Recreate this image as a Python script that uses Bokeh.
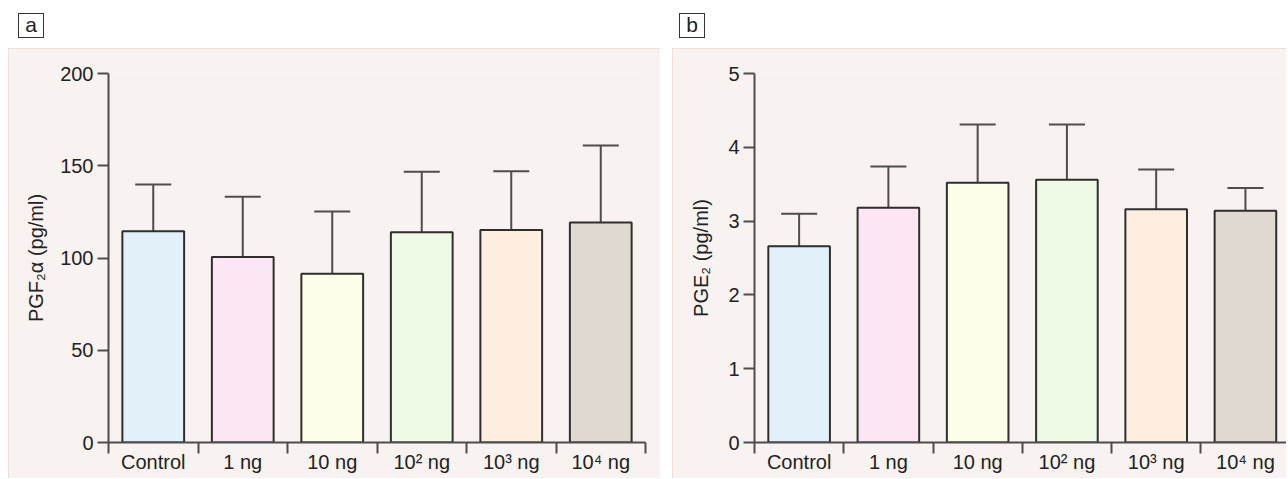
from bokeh.plotting import figure
from bokeh.layouts import row, column
from bokeh.models import Div, Range1d, FixedTicker, ColumnDataSource, TeeHead, Whisker
from bokeh.embed import file_html
from bokeh.resources import INLINE

# ---- data ----
categories = ["Control", "1 ng", "10 ng", "10² ng", "10³ ng", "10⁴ ng"]
pgf_mean = [114.5, 100.5, 91.5, 114.0, 115.2, 119.2]
pgf_err_top = [139.8, 133.2, 125.2, 146.8, 147.0, 161.0]
pge_mean = [2.66, 3.18, 3.52, 3.56, 3.16, 3.14]
pge_err_top = [3.10, 3.74, 4.31, 4.31, 3.70, 3.45]
bar_colors = ["#e2f0fa", "#fde6f3", "#fefde9", "#eefae6", "#feeee0", "#e0d9cf"]
pgf_ticks = [0, 50, 100, 150, 200]
pge_ticks = [0, 1, 2, 3, 4, 5]

FONT = "Liberation Sans"
BG = "#f8f3f0"
TXT = "#222222"
AX = "#4d4d4d"


def label_box(letter, width, left):
    html = (
        f'<div style="margin-left:{left}px;margin-top:13px;width:26px;height:25px;'
        'box-sizing:border-box;border:1px solid #333;font-family:\'Liberation Sans\';'
        'font-size:21px;line-height:21px;text-align:center;color:#222;">'
        f"{letter}</div>"
    )
    return Div(text=html, width=width, height=48, margin=(0, 0, 0, 0))


def panel(means, tops, yticks, ylabel, width, border_left, border_right, x_end, label_standoff):
    n = len(categories)
    centers = [i + 0.5 for i in range(n)]
    bounds = [float(i) for i in range(n + 1)]
    src = ColumnDataSource(dict(x=centers, top=means, err=tops, color=bar_colors))
    p = figure(width=width, height=430, output_backend="svg", toolbar_location=None,
               x_range=Range1d(0, x_end), y_range=Range1d(yticks[0], yticks[-1]),
               min_border_left=border_left, min_border_right=border_right,
               min_border_top=25, min_border_bottom=36, margin=(0, 0, 0, 0))
    p.background_fill_color = BG
    p.border_fill_color = BG
    p.outline_line_color = None
    p.styles = {"outline": "2px solid #ecd9cf", "outline-offset": "-2px"}
    p.xgrid.visible = False
    p.ygrid.visible = False

    p.vbar(x="x", top="top", bottom=0, width=0.69, source=src, fill_color="color",
           line_color="#2e2e2e", line_width=2)
    w = Whisker(base="x", lower="top", upper="err", source=src, dimension="height",
                line_color=AX, line_width=2, lower_head=None,
                upper_head=TeeHead(size=36, line_color=AX, line_width=2))
    p.add_layout(w)

    xa = p.xaxis[0]
    xa.ticker = FixedTicker(ticks=centers, minor_ticks=bounds)
    xa.major_label_overrides = {c: lab for c, lab in zip(centers, categories)}
    xa.major_tick_out = 0
    xa.major_tick_in = 0
    xa.minor_tick_out = 11
    xa.minor_tick_in = 0
    xa.minor_tick_line_color = AX
    xa.minor_tick_line_width = 2
    xa.axis_line_color = AX
    xa.axis_line_width = 2
    xa.major_label_standoff = -3
    xa.major_label_text_font = FONT
    xa.major_label_text_font_size = "20px"
    xa.major_label_text_color = TXT

    ya = p.yaxis[0]
    ya.ticker = FixedTicker(ticks=yticks)
    ya.minor_tick_line_color = None
    ya.major_tick_out = 11
    ya.major_tick_in = 0
    ya.major_tick_line_color = AX
    ya.major_tick_line_width = 2
    ya.axis_line_color = AX
    ya.axis_line_width = 2
    ya.major_label_standoff = 4
    ya.major_label_text_font = FONT
    ya.major_label_text_font_size = "20px"
    ya.major_label_text_color = TXT
    ya.axis_label = ylabel
    ya.axis_label_text_font = FONT
    ya.axis_label_text_font_size = "20px"
    ya.axis_label_text_font_style = "normal"
    ya.axis_label_text_color = TXT
    ya.axis_label_standoff = label_standoff
    return p


pa = panel(pgf_mean, pgf_err_top, pgf_ticks, "PGF₂α (pg/ml)", 652, 100, 15, 6, 10)
pb = panel(pge_mean, pge_err_top, pge_ticks, "PGE₂ (pg/ml)", 614, 82, 0, 5.96, 13)
pa.margin = (0, 0, 0, 8)

col_a = column(label_box("a", 660, 18), pa, spacing=0, margin=(0, 0, 0, 0))
col_b = column(label_box("b", 614, 7), pb, spacing=0, margin=(0, 0, 0, 0))
layout = row(col_a, col_b, spacing=12, margin=(0, 0, 0, 0))

open("out.html", "w").write(file_html(layout, INLINE))
